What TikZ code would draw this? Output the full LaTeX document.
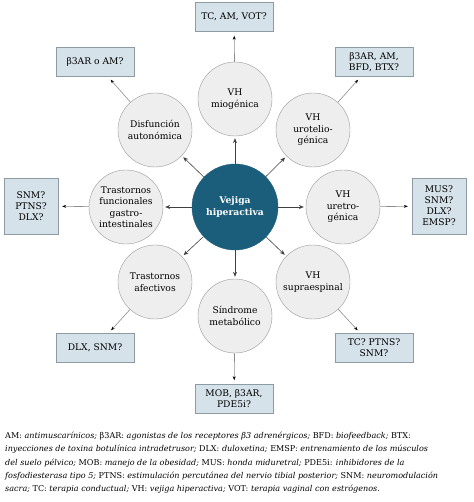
\documentclass[tikz,border=0pt]{standalone}
\usepackage{fontspec}
\setmainfont{DejaVu Serif}
\usetikzlibrary{arrows.meta}
\definecolor{hubblue}{HTML}{1B5E7B}
\definecolor{boxblue}{HTML}{D6E2E9}
\definecolor{boxline}{HTML}{8C9BA4}
\definecolor{circfill}{HTML}{EEEEEE}
\definecolor{circline}{HTML}{9A9A9A}
\tikzset{
  hub/.style={circle, fill=hubblue, draw=hubblue, minimum size=86bp, inner sep=0pt,
    text=white, align=center, font=\fontsize{9.2}{11.5}\selectfont\bfseries},
  cause/.style={circle, fill=circfill, draw=circline, minimum size=74bp, inner sep=0pt,
    align=center, font=\fontsize{9.2}{11.5}\selectfont},
  therapy/.style={rectangle, fill=boxblue, draw=boxline, minimum width=78bp, minimum height=29bp,
    inner sep=1pt, align=center, font=\fontsize{9.2}{11}\selectfont},
  tallbox/.style={therapy, minimum width=54bp, minimum height=56bp},
  spoke/.style={draw=black!75, line width=0.6pt, -{Stealth[length=5pt,width=4pt]}, shorten >=2bp},
  hint/.style={draw=black!45, line width=0.6pt, -{Stealth[length=4pt,width=3pt,black]}, shorten >=4bp}
}
\begin{document}
\begin{tikzpicture}[x=1bp,y=-1bp]
  \useasboundingbox (0,0) rectangle (474,502);

  \node[hub] (vh) at (235,207) {Vejiga\\hiperactiva};

  \node[cause] (mio) at (235,99) {VH\\miogénica};
  \node[cause] (auto) at (155,130) {Disfunción\\autonómica};
  \node[cause] (urot) at (313,130) {VH\\urotelio-\\génica};
  \node[cause] (gast) at (126,207) {Trastornos\\funcionales\\gastro-\\intestinales};
  \node[cause] (uret) at (343,207) {VH\\uretro-\\génica};
  \node[cause] (afec) at (155,282) {Trastornos\\afectivos};
  \node[cause] (supr) at (313,282) {VH\\supraespinal};
  \node[cause] (meta) at (235,316) {Síndrome\\metabólico};

  \node[therapy] (tmio) at (234,17) {TC, AM, VOT?};
  \node[therapy] (tauto) at (95,62) {β3AR o AM?};
  \node[therapy] (turot) at (374,62) {β3AR, AM,\\BFD, BTX?};
  \node[tallbox] (tgast) at (31,206) {SNM?\\PTNS?\\DLX?};
  \node[tallbox] (turet) at (439,206) {MUS?\\SNM?\\DLX?\\EMSP?};
  \node[therapy] (tafec) at (95,348) {DLX, SNM?};
  \node[therapy] (tsupr) at (374,348) {TC? PTNS?\\SNM?};
  \node[therapy] (tmeta) at (234,399) {MOB, β3AR,\\PDE5i?};

  \draw[spoke] (vh) -- (mio);
  \draw[spoke] (vh) -- (auto);
  \draw[spoke] (vh) -- (urot);
  \draw[spoke] (vh) -- (gast);
  \draw[spoke] (vh) -- (uret);
  \draw[spoke] (vh) -- (afec);
  \draw[spoke] (vh) -- (supr);
  \draw[spoke] (vh) -- (meta);

  \draw[hint] (mio) -- (tmio);
  \draw[hint] (auto) -- (tauto);
  \draw[hint] (urot) -- (turot);
  \draw[hint] (gast) -- (tgast);
  \draw[hint] (uret) -- (turet);
  \draw[hint] (afec) -- (tafec);
  \draw[hint] (supr) -- (tsupr);
  \draw[hint] (meta) -- (tmeta);

  \node[anchor=north west, inner sep=0pt, align=left, font=\fontsize{8.1}{13.3}\selectfont] (notes) at (5,432) {%
    AM: \textit{antimuscarínicos;} β3AR: \textit{agonistas de los receptores β3 adrenérgicos;} BFD: \textit{biofeedback;} BTX:\\
    \textit{inyecciones de toxina botulínica intradetrusor;} DLX: \textit{duloxetina;} EMSP: \textit{entrenamiento de los músculos}\\
    \textit{del suelo pélvico;} MOB: \textit{manejo de la obesidad;} MUS: \textit{honda miduretral;} PDE5i: \textit{inhibidores de la}\\
    \textit{fosfodiesterasa tipo 5;} PTNS: \textit{estimulación percutánea del nervio tibial posterior;} SNM: \textit{neuromodulación}\\
    \textit{sacra;} TC: \textit{terapia conductual;} VH: \textit{vejiga hiperactiva;} VOT: \textit{terapia vaginal con estrógenos.}};
\end{tikzpicture}
\end{document}
